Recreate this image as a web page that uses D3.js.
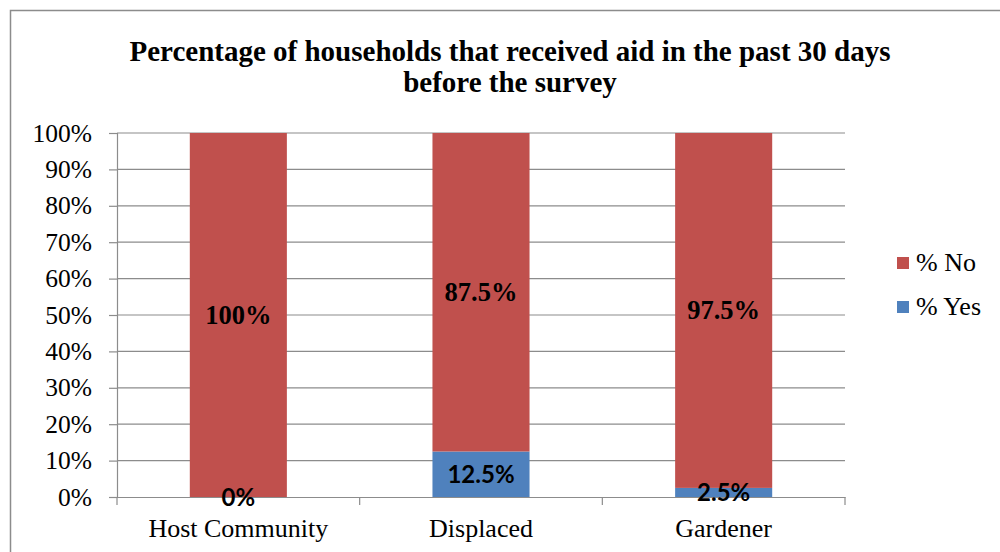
<!DOCTYPE html>
<html>
<head>
<meta charset="utf-8">
<script src="https://cdn.jsdelivr.net/npm/d3@7"></script>
<style>
  body { margin: 0; background: #fff; }
  svg { display: block; }
</style>
</head>
<body>
<svg id="chart" width="1000" height="552"></svg>
<script>
// data
const categories = ["Host Community", "Displaced", "Gardener"]
const yesValues = [0, 12.5, 2.5]
const noValues = [100, 87.5, 97.5]
const seriesNames = ["% No", "% Yes"]
const yTicks = [0, 10, 20, 30, 40, 50, 60, 70, 80, 90, 100]

const red = "#C0504D"
const blue = "#4F81BD"
const grey = "#8c8c8c"
const serif = "'Liberation Serif', 'Times New Roman', serif"
const sans = "Lato, 'Liberation Sans', sans-serif"

const svg = d3.select("#chart")
const margin = { top: 133, right: 155, bottom: 55, left: 117 }
const width = 1000, height = 552

// frame (only top and left edges are visible in the crop)
svg.append("path")
  .attr("d", "M10.5,560V10.5H1000")
  .attr("fill", "none")
  .attr("stroke", grey)
  .attr("stroke-width", 1.5)

// title
svg.append("text")
  .attr("x", 510).attr("y", 61)
  .attr("text-anchor", "middle")
  .style("font-family", serif).style("font-weight", "bold").style("font-size", "29px")
  .selectAll("tspan")
  .data(["Percentage of households that received aid in the past 30 days", "before the survey"])
  .join("tspan")
  .attr("x", 510)
  .attr("dy", (d, i) => i === 0 ? 0 : 31)
  .text(d => d)

const x = d3.scaleBand()
  .domain(categories)
  .range([margin.left, width - margin.right])
  .paddingInner(0.6).paddingOuter(0.3)

const band = d3.scaleBand().domain(categories).range([margin.left, width - margin.right])

const y = d3.scaleLinear()
  .domain([0, 100])
  .range([height - margin.bottom, margin.top])

// gridlines
svg.append("g")
  .selectAll("line")
  .data(yTicks.slice(1))
  .join("line")
  .attr("x1", margin.left).attr("x2", width - margin.right)
  .attr("y1", d => y(d)).attr("y2", d => y(d))
  .attr("stroke", grey).attr("stroke-width", 1.2)

// y axis
const yAxis = svg.append("g")
  .attr("transform", `translate(${margin.left},0)`)
  .call(d3.axisLeft(y).tickValues(yTicks).tickFormat(d => d + "%").tickSize(8).tickPadding(17))
yAxis.select(".domain").attr("stroke", grey).attr("stroke-width", 1.2)
yAxis.selectAll(".tick line").attr("stroke", grey).attr("stroke-width", 1.2)
yAxis.selectAll("text")
  .style("font-family", serif).style("font-size", "25.5px").attr("fill", "#000")

// stacked bars
const stack = categories.map((c, i) => [
  { key: "yes", cat: c, y0: 0, y1: yesValues[i], color: blue },
  { key: "no", cat: c, y0: yesValues[i], y1: yesValues[i] + noValues[i], color: red }
]).flat()

svg.append("g")
  .selectAll("rect")
  .data(stack)
  .join("rect")
  .attr("x", d => x(d.cat))
  .attr("width", x.bandwidth())
  .attr("y", d => y(d.y1))
  .attr("height", d => y(d.y0) - y(d.y1))
  .attr("fill", d => d.color)

// x axis
const xAxis = svg.append("g")
  .attr("transform", `translate(0,${y(0)})`)
  .call(d3.axisBottom(band).tickSize(0).tickPadding(22))
xAxis.select(".domain").attr("stroke", grey).attr("stroke-width", 1.2)
xAxis.selectAll("text")
  .style("font-family", serif).style("font-size", "26px").attr("fill", "#000")

// category separator ticks
svg.append("g")
  .selectAll("line")
  .data(categories)
  .join("line")
  .attr("x1", d => band(d)).attr("x2", d => band(d))
  .attr("y1", y(0)).attr("y2", y(0) + 8)
  .attr("stroke", grey).attr("stroke-width", 1.2)
svg.append("line")
  .attr("x1", width - margin.right).attr("x2", width - margin.right)
  .attr("y1", y(0)).attr("y2", y(0) + 8)
  .attr("stroke", grey).attr("stroke-width", 1.2)

// labels
svg.append("g")
  .selectAll("text")
  .data(categories)
  .join("text")
  .attr("x", d => x(d) + x.bandwidth() / 2)
  .attr("y", (d, i) => y(yesValues[i] + noValues[i] / 2) + 9)
  .attr("text-anchor", "middle")
  .style("font-family", serif).style("font-weight", "bold").style("font-size", "26.5px")
  .text((d, i) => noValues[i] + "%")

svg.append("g")
  .selectAll("text")
  .data(categories)
  .join("text")
  .attr("x", d => x(d) + x.bandwidth() / 2)
  .attr("y", (d, i) => Math.min(y(yesValues[i] / 2) + 9, y(0) + 11))
  .attr("text-anchor", "middle")
  .style("font-family", sans).style("font-weight", "bold").style("font-size", "24px")
  .text((d, i) => yesValues[i] + "%")

// legend
const legend = svg.append("g")
  .selectAll("g")
  .data(seriesNames)
  .join("g")
  .attr("transform", (d, i) => `translate(897,${257 + i * 44})`)
legend.append("rect")
  .attr("width", 12).attr("height", 12)
  .attr("fill", (d, i) => i === 0 ? red : blue)
legend.append("text")
  .attr("x", 19).attr("y", 14)
  .style("font-family", serif).style("font-size", "26px")
  .text(d => d)
</script>
</body>
</html>
